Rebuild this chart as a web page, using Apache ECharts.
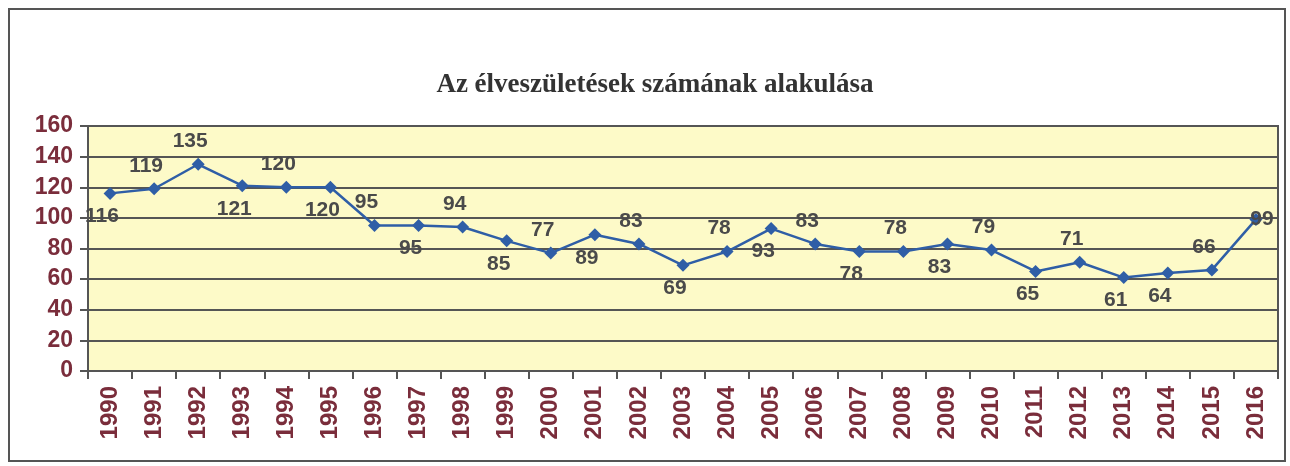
<!DOCTYPE html>
<html>
<head>
<meta charset="utf-8">
<script src="https://cdn.jsdelivr.net/npm/echarts@6/dist/echarts.min.js"></script>
<style>
html,body{margin:0;padding:0;background:#fff;}
#c{width:1290px;height:466px;}
</style>
</head>
<body>
<div id="c"></div>
<script>
const titleText = 'Az élveszületések számának alakulása';
const years = ['1990','1991','1992','1993','1994','1995','1996','1997','1998','1999','2000','2001','2002','2003','2004','2005','2006','2007','2008','2009','2010','2011','2012','2013','2014','2015','2016'];
const births = [116,119,135,121,120,120,95,95,94,85,77,89,83,69,78,93,83,78,78,83,79,65,71,61,64,66,99];
const yTicks = [0,20,40,60,80,100,120,140,160];

// label placement (styling only)
const labelPos = ['bottom','top','top','bottom','top','bottom','top','bottom','top','bottom','top','bottom','top','bottom','top','bottom','top','bottom','top','bottom','top','bottom','top','bottom','bottom','top','inside'];

const maroon = '#7a2d3b';
const labelFont = '"Liberation Sans", Arial, sans-serif';

const chart = echarts.init(document.getElementById('c'), null, {renderer:'canvas'});
const seriesData = births.map((v, i) => ({
  value: v,
  label: {
    position: labelPos[i],
    distance: 6,
    offset: labelPos[i] === 'inside' ? [6, 0] : [-8, 0]
  }
}));

chart.setOption({
  backgroundColor: '#ffffff',
  animation: false,
  title: {
    text: titleText,
    left: 650, top: 67, textAlign: 'center',
    textStyle: {fontFamily: '"Liberation Serif", "Times New Roman", serif', fontWeight: 'bold', fontSize: 27, color: '#333'}
  },
  graphic: [{
    type: 'rect', shape: {x: 9, y: 9, width: 1276, height: 452},
    style: {fill: 'none', stroke: '#555', lineWidth: 2}, silent: true, z: -1
  }],
  grid: {
    left: 88, right: 12, top: 126, height: 245,
    show: true, backgroundColor: '#fdfac8', borderColor: '#555', borderWidth: 2
  },
  xAxis: {
    type: 'category', data: years, boundaryGap: true,
    axisLine: {lineStyle: {color: '#555', width: 2}},
    axisTick: {show: true, length: 8, interval: 0, lineStyle: {color: '#555', width: 2}},
    axisLabel: {rotate: 90, interval: 0, margin: 15, color: maroon, fontWeight: 'bold', fontSize: 24, fontFamily: labelFont}
  },
  yAxis: {
    type: 'value', min: yTicks[0], max: yTicks[yTicks.length-1], interval: yTicks[1]-yTicks[0],
    axisLine: {show: true, lineStyle: {color: '#555', width: 2}},
    axisTick: {show: true, length: 8, lineStyle: {color: '#555', width: 2}},
    axisLabel: {margin: 15, color: maroon, fontWeight: 'bold', fontSize: 23, fontFamily: labelFont},
    splitLine: {show: true, lineStyle: {color: '#555', width: 2}}
  },
  series: [{
    type: 'line', data: seriesData,
    symbol: 'diamond', symbolSize: 13,
    lineStyle: {color: '#2f5ea6', width: 2.5},
    itemStyle: {color: '#2f5ea6'},
    label: {show: true, color: '#4a4a4a', fontWeight: 'bold', fontSize: 21, fontFamily: labelFont}
  }]
});
</script>
</body>
</html>
